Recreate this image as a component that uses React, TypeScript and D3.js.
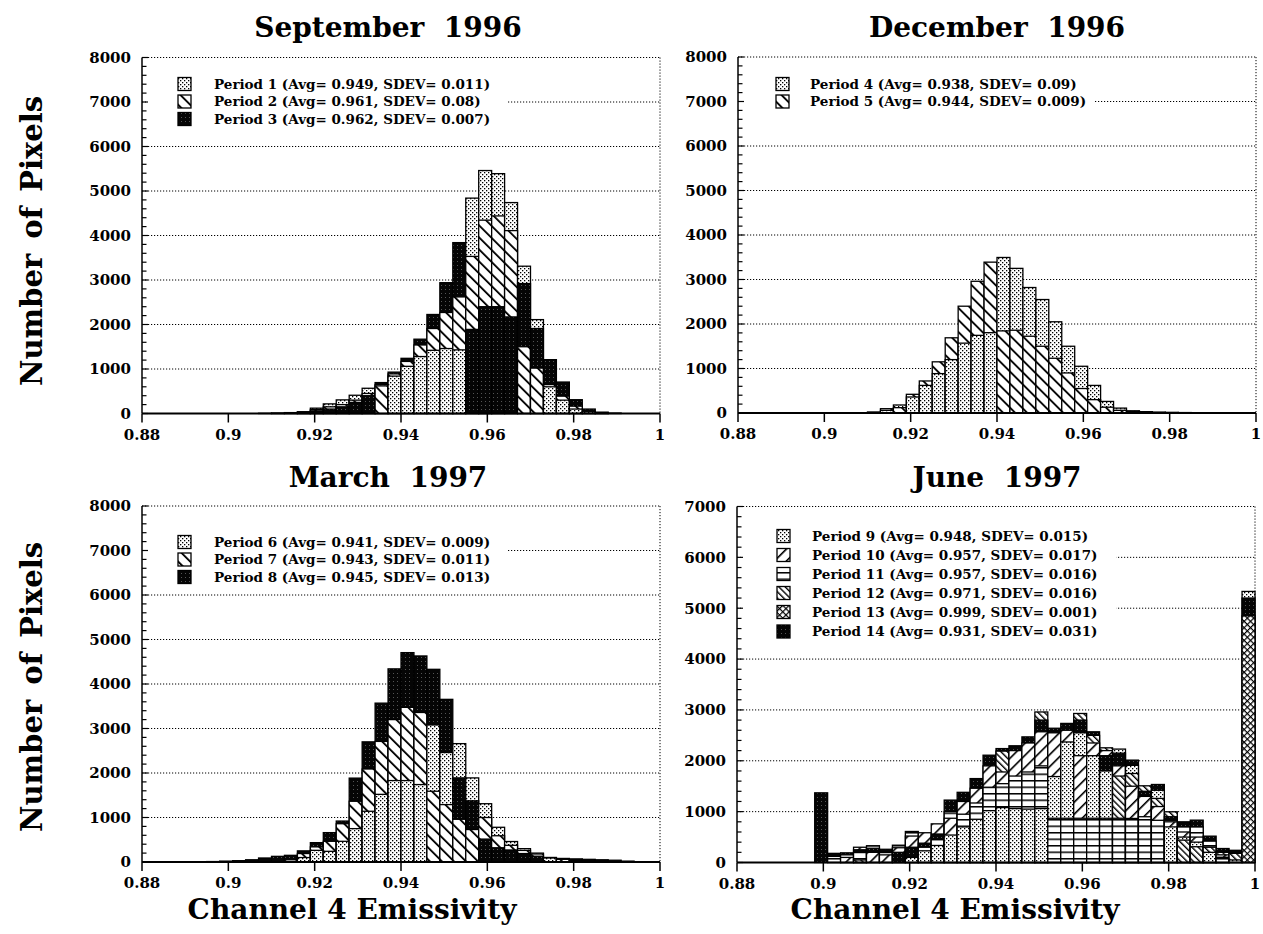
import React from 'react';
import * as d3 from 'd3';

// histogram bins: 0.003 wide starting at 0.88 (40 bins up to 1.0)
const BIN_START = 0.88;
const BIN_WIDTH = 0.003;
const xTicks = [0.88, 0.9, 0.92, 0.94, 0.96, 0.98, 1];

// September 1996
const period1 = [0,0,0,0,0,0,0,0,0,5, 10,20,40,120,216,306,410,567,650,840, 1060,1280,1420,1460,1430,4840,5460,5390,4740,3310, 2110,600,300,100,40,10,0,0,0,0];
const period2 = [0,0,0,0,0,0,0,0,0,0, 0,0,20,90,150,200,300,450,620,890, 1170,1540,1910,2270,2620,3530,4345,4440,4110,1500, 1020,650,390,165,50,20,0,0,0,0];
const period3 = [0,0,0,0,0,0,0,0,0,0, 5,10,30,60,100,150,250,400,695,930, 1240,1670,2225,2940,3840,1890,2400,2400,2170,2920, 1910,1210,707,310,100,30,10,0,0,0];

// December 1996
const period4 = [0,0,0,0,0,0,0,0,0,5, 15,60,180,360,620,885,1200,1570,1745,1805, 3495,3250,2820,2550,2050,1500,1050,620,260,110, 50,30,20,15,10,5,0,0,0,0];
const period5 = [0,0,0,0,0,0,0,0,0,0, 20,97,120,420,720,1150,1690,2400,2960,3390, 1845,1860,1725,1500,1230,900,550,300,130,60, 30,15,10,5,0,0,0,0,0,0];

// March 1997
const period6 = [0,0,0,0,0,0,0,0,0,0, 0,0,100,262,240,465,750,1140,1520,1830, 1830,1740,3080,2460,2660,1890,1310,780,460,300, 200,90,60,40,20,10,0,0,0,0];
const period7 = [0,0,0,0,0,0,0,0,0,0, 0,50,190,340,465,860,1365,2090,2710,3200, 3475,3360,1590,1290,960,730,1000,590,375,260, 180,100,60,30,10,0,0,0,0,0];
const period8 = [0,0,0,0,0,10,20,30,50,90, 127,150,250,435,660,920,1885,2700,3570,4340, 4705,4630,4330,3655,1890,1375,515,320,270,190, 130,100,80,70,60,50,40,20,0,0];

// June 1997
const period9 = [0,0,0,0,0,0,0,0,0,0, 0,0,0,100,230,335,540,700,850,1020, 1080,1060,1050,1060,1690,2370,2550,2100,1800,2230, 1910,1300,1420,700,500,400,200,100,50,5330];
const period10 = [0,0,0,0,0,0,0,0,100,300, 200,150,290,520,585,760,870,1200,1460,1900, 1780,2200,2350,2570,2550,2600,2100,2350,2200,1900, 1500,1300,1100,800,600,500,300,150,0,0];
const period11 = [0,0,0,0,0,0,0,120,150,200, 330,200,340,610,300,450,1000,950,1170,1480, 1550,1700,1780,1900,870,870,870,870,870,870, 866,900,830,830,700,700,420,100,0,0];
const period12 = [0,0,0,0,0,0,0,0,0,50, 0,0,0,0,0,0,0,0,0,0, 2190,0,0,2960,0,0,2930,2500,2255,1700, 1750,1508,1260,997,440,310,300,200,180,0];
const period13 = [0,0,0,0,0,0,0,0,0,0, 0,0,0,0,0,0,0,0,0,0, 0,0,0,0,0,0,0,0,0,0, 0,0,0,0,0,0,0,0,0,4850];
const period14 = [0,0,0,0,0,0,1370,180,190,250, 280,260,200,300,380,560,1227,1380,1650,2110, 2240,2295,2470,2800,2640,2735,2800,2570,2100,2150, 2013,1400,1534,900,800,833,518,275,240,5200];

const FONT = "'DejaVu Serif', serif";
const PLOT_W = 518;
const PLOT_H = 356;

interface Series { label: string; fill: string; values: number[] }
interface PanelDef {
  title: string;
  x0: number;
  y0: number;
  yMax: number;
  titleX: number;
  titleY: number;
  series: Series[];
  legend: { x: number; textX: number; rows: number[]; box: [number, number, number, number] };
}

const panels: PanelDef[] = [
  {
    title: 'September  1996', x0: 142, y0: 57.5, yMax: 8000, titleX: 388, titleY: 37,
    series: [
      { label: 'Period 1 (Avg= 0.949, SDEV= 0.011)', fill: 'url(#stipple)', values: period1 },
      { label: 'Period 2 (Avg= 0.961, SDEV= 0.08)', fill: 'url(#hatchBack)', values: period2 },
      { label: 'Period 3 (Avg= 0.962, SDEV= 0.007)', fill: 'url(#dark)', values: period3 },
    ],
    legend: { x: 178, textX: 214, rows: [84, 101.5, 119], box: [146, 73, 508, 128] },
  },
  {
    title: 'December  1996', x0: 738, y0: 57, yMax: 8000, titleX: 997, titleY: 37,
    series: [
      { label: 'Period 4 (Avg= 0.938, SDEV= 0.09)', fill: 'url(#stipple)', values: period4 },
      { label: 'Period 5 (Avg= 0.944, SDEV= 0.009)', fill: 'url(#hatchBack)', values: period5 },
    ],
    legend: { x: 776, textX: 810, rows: [84, 101.5], box: [742, 73, 1095, 110] },
  },
  {
    title: 'March  1997', x0: 142, y0: 506, yMax: 8000, titleX: 388, titleY: 487,
    series: [
      { label: 'Period 6 (Avg= 0.941, SDEV= 0.009)', fill: 'url(#stipple)', values: period6 },
      { label: 'Period 7 (Avg= 0.943, SDEV= 0.011)', fill: 'url(#hatchBack)', values: period7 },
      { label: 'Period 8 (Avg= 0.945, SDEV= 0.013)', fill: 'url(#dark)', values: period8 },
    ],
    legend: { x: 178, textX: 214, rows: [542, 559.5, 577], box: [146, 531, 508, 586] },
  },
  {
    title: 'June  1997', x0: 737, y0: 506.5, yMax: 7000, titleX: 997, titleY: 487,
    series: [
      { label: 'Period 9 (Avg= 0.948, SDEV= 0.015)', fill: 'url(#stipple)', values: period9 },
      { label: 'Period 10 (Avg= 0.957, SDEV= 0.017)', fill: 'url(#hatchFwd)', values: period10 },
      { label: 'Period 11 (Avg= 0.957, SDEV= 0.016)', fill: 'url(#horiz)', values: period11 },
      { label: 'Period 12 (Avg= 0.971, SDEV= 0.016)', fill: 'url(#hatchDense)', values: period12 },
      { label: 'Period 13 (Avg= 0.999, SDEV= 0.001)', fill: 'url(#cross)', values: period13 },
      { label: 'Period 14 (Avg= 0.931, SDEV= 0.031)', fill: 'url(#dark)', values: period14 },
    ],
    legend: { x: 777, textX: 812, rows: [536, 555, 574, 593, 612, 631.5], box: [741, 524, 1116, 642] },
  },
];

const Patterns = () => (
  <defs>
    <pattern id="stipple" width="4" height="4" patternUnits="userSpaceOnUse">
      <rect width="4" height="4" fill="#fff" />
      <rect x="0" y="0" width="1.3" height="1.3" fill="#000" />
      <rect x="2" y="2" width="1.3" height="1.3" fill="#000" />
    </pattern>
    <pattern id="dark" width="4" height="4" patternUnits="userSpaceOnUse">
      <rect width="4" height="4" fill="#050505" />
      <rect x="1" y="1" width="1" height="1" fill="#555" />
    </pattern>
    <pattern id="hatchBack" width="8.5" height="8.5" patternUnits="userSpaceOnUse" patternTransform="rotate(-45)">
      <rect width="8.5" height="8.5" fill="#fff" />
      <rect x="0" y="0" width="1.8" height="8.5" fill="#000" />
    </pattern>
    <pattern id="hatchFwd" width="8.5" height="8.5" patternUnits="userSpaceOnUse" patternTransform="rotate(45)">
      <rect width="8.5" height="8.5" fill="#fff" />
      <rect x="0" y="0" width="1.6" height="8.5" fill="#000" />
    </pattern>
    <pattern id="hatchDense" width="4.5" height="4.5" patternUnits="userSpaceOnUse" patternTransform="rotate(-45)">
      <rect width="4.5" height="4.5" fill="#fff" />
      <rect x="0" y="0" width="1.4" height="4.5" fill="#000" />
    </pattern>
    <pattern id="horiz" width="7" height="6.5" patternUnits="userSpaceOnUse">
      <rect width="7" height="6.5" fill="#fff" />
      <rect x="0" y="0" width="7" height="1.5" fill="#000" />
    </pattern>
    <pattern id="cross" width="4.5" height="4.5" patternUnits="userSpaceOnUse" patternTransform="rotate(45)">
      <rect width="4.5" height="4.5" fill="#fff" />
      <rect x="0" y="0" width="1.2" height="4.5" fill="#000" />
      <rect x="0" y="0" width="4.5" height="1.2" fill="#000" />
    </pattern>
  </defs>
);

const Panel = ({ p }: { p: PanelDef }) => {
  const x = d3.scaleLinear().domain([0.88, 1]).range([p.x0, p.x0 + PLOT_W]);
  const y = d3.scaleLinear().domain([0, p.yMax]).range([p.y0 + PLOT_H, p.y0]);
  const majors = d3.range(0, p.yMax + 1, 1000);
  const minors = d3.range(0, p.yMax + 1, 200);
  const nBins = p.series[0].values.length;
  const [bx0, by0, bx1, by1] = p.legend.box;

  return (
    <g>
      <text x={p.titleX} y={p.titleY} textAnchor="middle" fontFamily={FONT} fontWeight="bold" fontSize={28} style={{ whiteSpace: 'pre' }}>
        {p.title}
      </text>
      {majors.slice(1).map((v) => (
        <line key={'g' + v} x1={p.x0} x2={p.x0 + PLOT_W} y1={y(v)} y2={y(v)} stroke="#000" strokeWidth={1} strokeDasharray="1.2 1.8" />
      ))}
      <line x1={p.x0 + PLOT_W} x2={p.x0 + PLOT_W} y1={p.y0} y2={p.y0 + PLOT_H} stroke="#000" strokeWidth={1} strokeDasharray="1.2 1.8" />
      <rect x={bx0} y={by0} width={bx1 - bx0} height={by1 - by0} fill="#fff" />
      {p.series.map((s, i) => (
        <g key={'l' + i}>
          <rect x={p.legend.x} y={p.legend.rows[i] - 6.5} width={13} height={13} fill={s.fill} stroke="#000" strokeWidth={1.3} />
          <text x={p.legend.textX} y={p.legend.rows[i]} dy="0.35em" fontFamily={FONT} fontWeight="bold" fontSize={13.5}>
            {s.label}
          </text>
        </g>
      ))}
      {d3.range(nBins).map((k) => {
        const stack = p.series
          .map((s) => ({ v: s.values[k], fill: s.fill }))
          .filter((d) => d.v > 0)
          .sort((a, b) => b.v - a.v);
        const xl = x(BIN_START + k * BIN_WIDTH);
        const xr = x(BIN_START + (k + 1) * BIN_WIDTH);
        return (
          <g key={'b' + k}>
            {stack.map((d, j) => (
              <rect key={j} x={xl} y={y(d.v)} width={xr - xl} height={y(0) - y(d.v)} fill={d.fill} stroke="#000" strokeWidth={1.3} />
            ))}
          </g>
        );
      })}
      {/* left axis */}
      <line x1={p.x0} x2={p.x0} y1={p.y0} y2={p.y0 + PLOT_H} stroke="#000" strokeWidth={1.5} />
      {minors.map((v) => (
        <line key={'m' + v} x1={p.x0} x2={p.x0 + (v % 1000 === 0 ? 6 : 4.5)} y1={y(v)} y2={y(v)} stroke="#000" strokeWidth={1.2} />
      ))}
      {majors.map((v) => (
        <text key={'yl' + v} x={p.x0 - 11} y={y(v)} dy="0.36em" textAnchor="end" fontFamily={FONT} fontWeight="bold" fontSize={15}>
          {v}
        </text>
      ))}
      {/* bottom axis */}
      <line x1={p.x0} x2={p.x0 + PLOT_W} y1={y(0)} y2={y(0)} stroke="#000" strokeWidth={2.2} />
      {xTicks.map((t) => (
        <g key={'xt' + t}>
          <line x1={x(t)} x2={x(t)} y1={y(0)} y2={y(0) + 9} stroke="#000" strokeWidth={1.5} />
          <text x={x(t)} y={y(0) + 26} textAnchor="middle" fontFamily={FONT} fontWeight="bold" fontSize={15}>
            {String(t)}
          </text>
        </g>
      ))}
    </g>
  );
};

export default function App() {
  return (
    <svg width={1263} height={934} style={{ position: 'absolute', left: 0, top: 0, background: '#fff' }}>
      <Patterns />
      <rect width={1263} height={934} fill="#fff" />
      {panels.map((p, i) => (
        <Panel key={i} p={p} />
      ))}
      <text transform="translate(42,241) rotate(-90)" textAnchor="middle" fontFamily={FONT} fontWeight="bold" fontSize={29} wordSpacing={5}>
        Number of Pixels
      </text>
      <text transform="translate(42,687) rotate(-90)" textAnchor="middle" fontFamily={FONT} fontWeight="bold" fontSize={29} wordSpacing={5}>
        Number of Pixels
      </text>
      <text x={352} y={919} textAnchor="middle" fontFamily={FONT} fontWeight="bold" fontSize={28}>
        Channel 4 Emissivity
      </text>
      <text x={955} y={919} textAnchor="middle" fontFamily={FONT} fontWeight="bold" fontSize={28}>
        Channel 4 Emissivity
      </text>
    </svg>
  );
}
